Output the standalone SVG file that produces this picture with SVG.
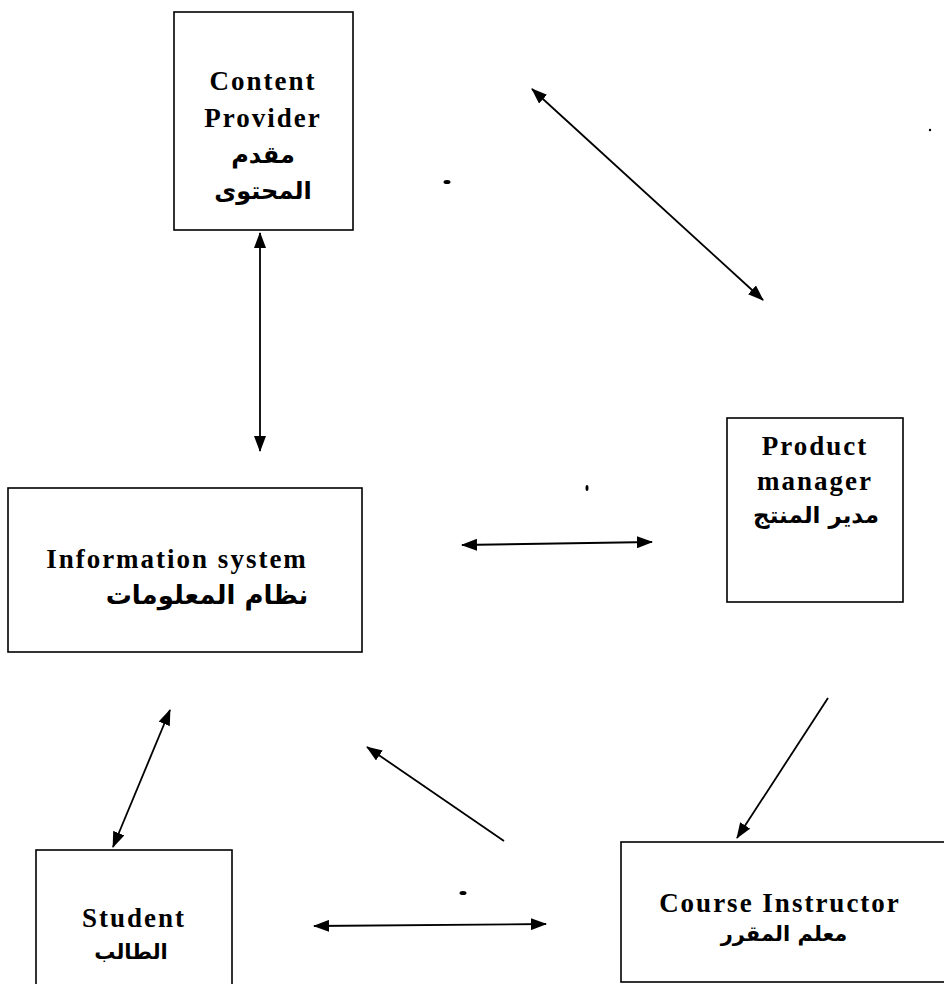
<svg xmlns="http://www.w3.org/2000/svg" width="944" height="984" viewBox="0 0 944 984">
<defs>
<style>
.box{fill:#fff;stroke:#000;stroke-width:1.6}
.en{font-family:"Liberation Serif","Times New Roman",serif;font-weight:bold;font-size:27px;letter-spacing:2px;fill:#000;text-anchor:middle}
.ar{font-family:"DejaVu Sans",sans-serif;font-weight:bold;font-size:22px;fill:#000;text-anchor:middle}
.con{stroke:#000;stroke-width:1.8;fill:none}
.two{marker-start:url(#ah);marker-end:url(#ah)}
.one{marker-end:url(#ah)}
</style>
<marker id="ah" viewBox="0 0 16 12" refX="15" refY="6" markerWidth="16" markerHeight="12" markerUnits="userSpaceOnUse" orient="auto-start-reverse">
<path d="M0,0 L16,6 L0,12 z" fill="#000"/>
</marker>
</defs>
<rect width="944" height="984" fill="#fff"/>
<g id="content-provider">
<rect class="box" x="174" y="12" width="179" height="218"/>
<text class="en" x="263" y="90">Content</text>
<text class="en" x="263" y="127">Provider</text>
<text class="ar" x="263" y="163" style="font-size:24px">مقدم</text>
<text class="ar" x="263" y="199" style="font-size:24px">المحتوى</text>
</g>
<g id="information-system">
<rect class="box" x="8" y="488" width="354" height="164"/>
<text class="en" x="177" y="568">Information system</text>
<text class="ar" x="207" y="604" style="font-size:26px">نظام المعلومات</text>
</g>
<g id="product-manager">
<rect class="box" x="727" y="418" width="176" height="184"/>
<text class="en" x="815" y="455">Product</text>
<text class="en" x="815" y="490">manager</text>
<text class="ar" x="816" y="523" style="font-size:23px">مدير المنتج</text>
</g>
<g id="student">
<rect class="box" x="36" y="850" width="196" height="150"/>
<text class="en" x="134" y="927">Student</text>
<text class="ar" x="131" y="959" style="font-size:21px">الطالب</text>
</g>
<g id="course-instructor">
<rect class="box" x="621" y="842" width="340" height="140"/>
<text class="en" x="780" y="912">Course Instructor</text>
<text class="ar" x="784" y="941" style="font-size:21px">معلم المقرر</text>
</g>
<g id="connectors">
<line class="con two" x1="260" y1="233" x2="260" y2="451"/>
<line class="con two" x1="532" y1="89" x2="763" y2="300"/>
<line class="con two" x1="462" y1="545" x2="652" y2="542"/>
<line class="con two" x1="170" y1="710" x2="113" y2="847"/>
<line class="con one" x1="504" y1="841" x2="367" y2="747"/>
<line class="con one" x1="828" y1="698" x2="737" y2="838"/>
<line class="con two" x1="314" y1="926" x2="546" y2="924"/>
</g>
<g id="specks" fill="#000">
<ellipse cx="447" cy="182" rx="3.5" ry="2"/>
<ellipse cx="587" cy="488" rx="1.5" ry="3"/>
<ellipse cx="463" cy="893" rx="3.5" ry="2"/>
<circle cx="930" cy="130" r="1.2"/>
</g>
</svg>
